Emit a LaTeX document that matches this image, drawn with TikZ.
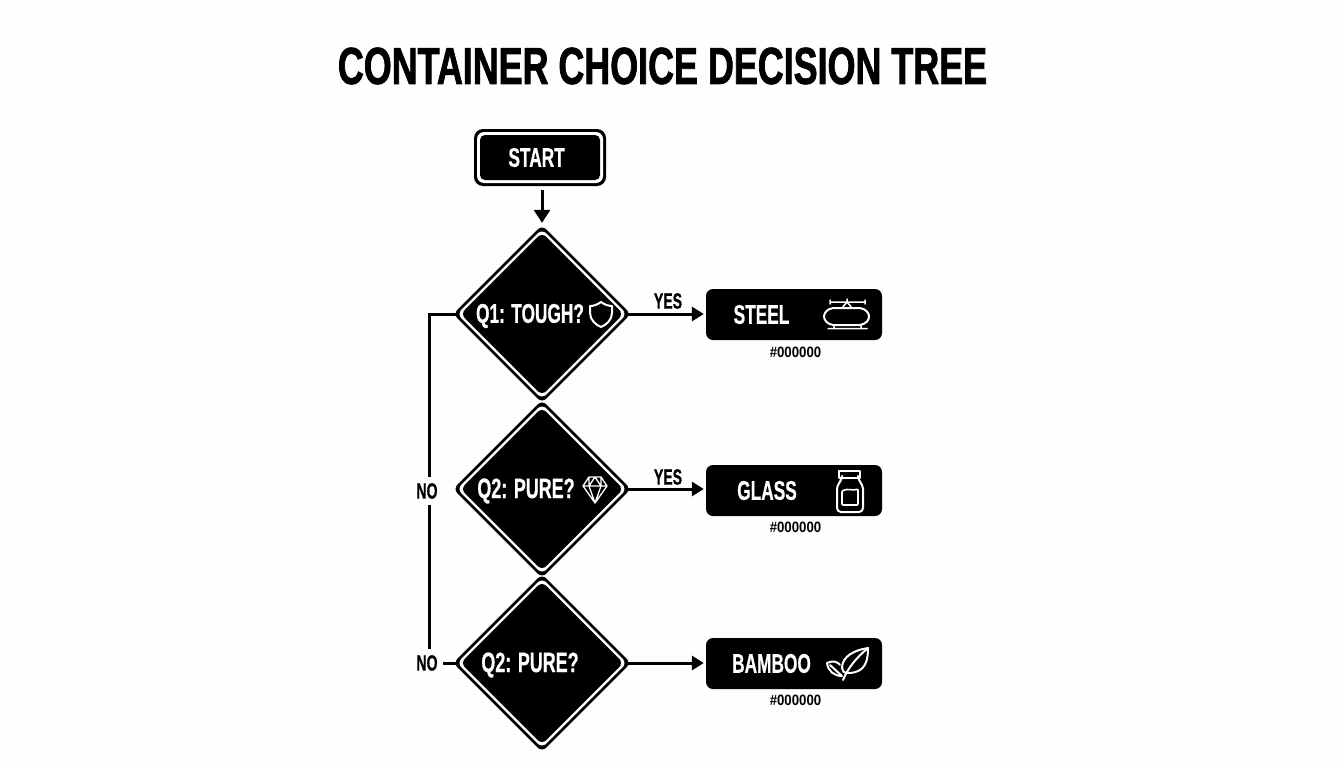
\documentclass[tikz,border=0pt]{standalone}
\usepackage{fontspec}
\usetikzlibrary{shapes.geometric,arrows.meta}
\newfontfamily\cnfont[FakeStretch=0.64,FakeBold=0.6]{Liberation Sans Bold}
\newfontfamily\titlefont[FakeStretch=0.69,FakeBold=1.4]{Liberation Sans Bold}
\newfontfamily\hexfont[FakeStretch=0.88]{Liberation Sans Bold}
\newcommand{\fs}[1]{\fontsize{#1}{#1}\selectfont\cnfont}
\tikzset{
  x=1pt,y=-1pt,
  dia/.style={diamond,aspect=1,inner sep=0pt,minimum width=#1,minimum height=#1,rounded corners=6pt},
  bx/.style args={#1x#2}{rectangle,inner sep=0pt,minimum width=#1,minimum height=#2,rounded corners=7pt},
  result/.style={bx=176x51,fill=black},
  wtext/.style={text=white,inner sep=0pt},
  btext/.style={text=black,inner sep=0pt},
  nolabel/.style={btext,inner ysep=6pt},
  conn/.style={draw=black,line width=3pt},
  arr/.style={conn,-{Triangle[length=12pt,width=14pt]},shorten >=2pt,shorten <=-4pt},
  icon/.style={draw=white,line width=2pt,line join=round,line cap=round},
}
\begin{document}
\begin{tikzpicture}
\useasboundingbox (0,0) rectangle (1344,768);
\fill[white!99!cyan] (0,0) rectangle (1344,768);
\node[btext] (title) at (662.5,66) {\fontsize{52}{52}\selectfont\titlefont CONTAINER CHOICE DECISION TREE};
% start
\node[bx=132x57,fill=black,rounded corners=9pt] (start) at (540,157.5) {};
\node[bx=126x51,fill=white,rounded corners=7pt] (startw) at (540,157.5) {};
\node[bx=120x45,fill=black,rounded corners=5pt] (startb) at (540,157.5) {};
\node[wtext] (startt) at (536.6,157.5) {\fs{27}START};
% diamonds
\foreach \n/\y in {q1/314,q2/489,q3/663}{
  \node[dia=178pt,fill=black] (\n) at (542,\y) {};
  \node[dia=170pt,fill=white] (\n w) at (542,\y) {};
  \node[dia=163pt,fill=black] (\n b) at (542,\y) {};
}
\node[wtext] (q1t) at (530,316) {\fs{27}Q1: TOUGH?};
\node[wtext] (q2t) at (526,491) {\fs{28}Q2: PURE?};
\node[wtext] (q3t) at (530,665) {\fs{28}Q2: PURE?};
% results
\node[result] (steel) at (794,314.5) {};
\node[result] (glass) at (794,490.5) {};
\node[result] (bamboo) at (794,663.5) {};
\node[wtext] at (761.5,314.5) {\fs{27}STEEL};
\node[wtext] at (767,490.5) {\fs{27}GLASS};
\node[wtext] at (771.5,663.5) {\fs{27}BAMBOO};
\node[btext] (h1) at (795.5,352) {\fontsize{15}{15}\selectfont\hexfont\#000000};
\node[btext] (h2) at (795.5,527) {\fontsize{15}{15}\selectfont\hexfont\#000000};
\node[btext] (h3) at (795.5,700) {\fontsize{15}{15}\selectfont\hexfont\#000000};
% labels
\node[btext] (y1) at (668,301) {\fs{22}YES};
\node[btext] (y2) at (668,477) {\fs{22}YES};
\node[nolabel] (no1) at (427,491) {\fs{22}NO};
\node[nolabel] (no2) at (427,663) {\fs{22}NO};
\coordinate (bend) at (429,314);
% connectors
\draw[arr,-{Triangle[length=13pt,width=16pt]},shorten <=0pt,shorten >=2pt] (start.south)++(2,4) -- (q1.north);
\draw[arr] (q1.east) -- (q1.east -| steel.west);
\draw[arr] (q2.east) -- (q2.east -| glass.west);
\draw[arr] (q3.east) -- (q3.east -| bamboo.west);
\draw[conn,shorten <=-4pt] (q1.west) -- (bend) -- (bend |- no1.north);
\draw[conn] (bend |- no1.south) -- (bend |- no2.north);
\draw[conn,shorten >=-4pt] (no2.east)++(5,0) -- (q3.west);
% shield
\draw[icon] (601,302) .. controls (605,305) and (609,306) .. (612,306) -- (612,313) .. controls (612,320) and (606,325) .. (601,327) .. controls (596,325) and (590,320) .. (590,313) -- (590,306) .. controls (593,306) and (597,305) .. (601,302) -- cycle;
% gem
\draw[icon,line width=1.3pt] (589,477) -- (601,477) -- (607,486) -- (595,503) -- (583,486) -- cycle
  (583,486) -- (607,486) (589,477) -- (589,486) -- (595,503) -- (601,486) -- (601,477) (595,477) -- (589,486) (595,477) -- (601,486);
% tank
\draw[icon] (833,308) -- (860,308) .. controls (866,309) and (869,313) .. (869,316.5) .. controls (869,320) and (866,324) .. (860,325) -- (833,325) .. controls (827,324) and (824,320) .. (824,316.5) .. controls (824,313) and (827,309) .. (833,308) -- cycle;
\draw[icon,line width=1.5pt] (830,302) -- (865,302) (830,300) -- (830,304) (865,300) -- (865,304)
  (847,299) -- (847,302) (842,308) -- (847,302) -- (852,308)
  (828,328.5) -- (867,328.5) (834,325) -- (834,328.5) (861,325) -- (861,328.5);
% jar
\draw[icon] (839,471) rectangle (860,477.5);
\draw[icon,rounded corners=4pt] (842,477.5) -- (842,480) -- (837,485) -- (837,512) -- (863,512) -- (863,485) -- (858,480) -- (858,477.5);
\draw[icon,line width=1.6pt,rounded corners=1pt] (842,491) .. controls (848,488) and (853,491) .. (858,489) -- (858,505) -- (842,505) -- cycle;
% leaves
\draw[icon] (843,680) .. controls (848,668) and (856,658) .. (868,648);
\draw[icon] (868,648) .. controls (868,660) and (866,673) .. (848,673) .. controls (844,673) and (842,671) .. (842,668) .. controls (842,656) and (855,650) .. (868,648) -- cycle;
\draw[icon] (827,663) .. controls (833,660) and (838,662) .. (840,665) (827,663) .. controls (828,671) and (834,676) .. (842,676) (830,665) -- (842,676);
\end{tikzpicture}
\end{document}
